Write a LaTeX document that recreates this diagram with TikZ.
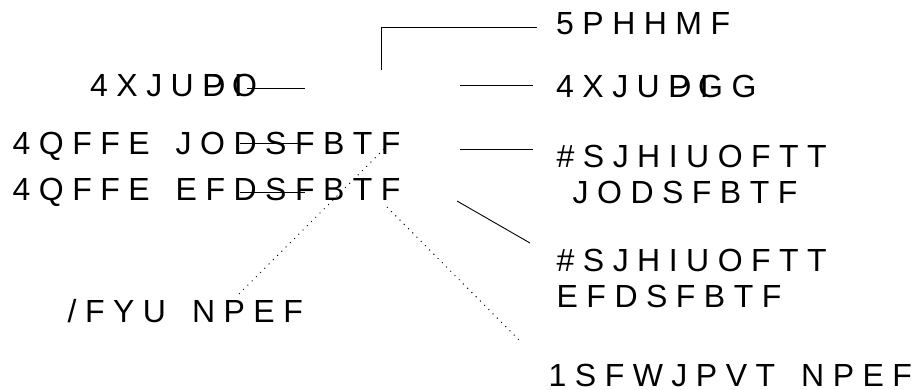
\documentclass[tikz,border=0pt]{standalone}
\usepackage{fontspec}
\newfontfamily\lblfont{Liberation Sans}[LetterSpace=26.5]
\begin{document}
\begin{tikzpicture}[x=1pt,y=-1pt,
  lbl/.style={font={\lblfont\fontsize{32}{36}\selectfont\spaceskip=26pt\relax}, inner sep=0pt, anchor=base west, align=left},
  conn/.style={line width=0.9pt},
  dots/.style={line width=1pt, dash pattern=on 1pt off 5pt}]
\useasboundingbox (0,0) rectangle (922,389);
% labels (multi-line nodes: base = last line)
\node[lbl] (toggle) at (556,34) {5PHHMF};
\node[lbl] (son) at (90,96) {4XJU\kern8.5pt\rlap{PO}DI};
\node[lbl] (soff) at (556,97) {4XJU\kern8.5pt\rlap{PGG}DI};
\node[lbl] (sinc) at (12.5,154) {4QFFE JODSFBTF};
\node[lbl] (sdec) at (12.5,200) {4QFFE EFDSFBTF};
\node[lbl] (binc) at (556.5,203) {\#SJHIUOFTT\\\hspace*{16pt}JODSFBTF};
\node[lbl] (bdec) at (556.5,307) {\#SJHIUOFTT\\EFDSFBTF};
\node[lbl] (next) at (67.5,322) {/FYU NPEF};
\node[lbl] (prev) at (548.5,386.5) {1SFWJPVT NPEF};
% connector end points
\coordinate (tg1) at (381,70); \coordinate (tg2) at (381,27); \coordinate (tg3) at (537,27);
\coordinate (on1) at (247,88); \coordinate (on2) at (305,88);
\coordinate (off1) at (460,85); \coordinate (off2) at (533,85);
\coordinate (si1) at (240,143); \coordinate (si2) at (303,143);
\coordinate (sd1) at (240,192); \coordinate (sd2) at (305,192);
\coordinate (bi1) at (460,149); \coordinate (bi2) at (533,149);
\coordinate (bd1) at (457,201); \coordinate (bd2) at (530,243);
\coordinate (nm1) at (384,149); \coordinate (nm2) at (238,295);
\coordinate (pm1) at (387,207); \coordinate (pm2) at (521,342);
% connectors
\draw[conn] (tg1) -- (tg2) -- (tg3);
\draw[conn] (on1) -- (on2);
\draw[conn] (off1) -- (off2);
\draw[conn] (si1) -- (si2);
\draw[conn] (sd1) -- (sd2);
\draw[conn] (bi1) -- (bi2);
\draw[conn] (bd1) -- (bd2);
\draw[dots] (nm1) -- (nm2);
\draw[dots] (pm1) -- (pm2);
\end{tikzpicture}
\end{document}
